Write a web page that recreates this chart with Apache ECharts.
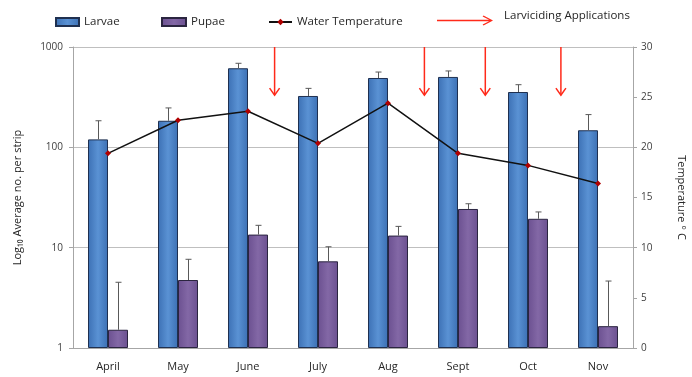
<!DOCTYPE html>
<html>
<head>
<meta charset="utf-8">
<script src="https://cdn.jsdelivr.net/npm/echarts@6/dist/echarts.min.js"></script>
<style>
  html, body { margin: 0; padding: 0; background: #ffffff; }
  #chart { width: 692px; height: 377px; }
</style>
</head>
<body>
<div id="chart"></div>
<script>
// Monthly survey: mosquito larvae / pupae per strip (log scale) and water temperature
const months = ['April', 'May', 'June', 'July', 'Aug', 'Sept', 'Oct', 'Nov'];
const larvae = [120, 184, 614, 325, 491, 503, 356, 148];
const larvaeErr = [64, 63, 74, 62, 72, 74, 65, 64];
const pupae = [1.52, 4.76, 13.5, 7.31, 13.2, 24.3, 19.4, 1.65];
const pupaeErr = [3.0, 2.9, 3.2, 2.9, 3.1, 3.1, 3.3, 3.0];
const waterTemp = [19.4, 22.7, 23.6, 20.4, 24.4, 19.4, 18.2, 16.4];
// Larviciding applications, positioned in month units (0 = April)
const applications = [2.38, 4.52, 5.39, 6.47];
const arrowFrom = 30;
const arrowTo = 25.2;
const countTicks = [1, 10, 100, 1000];

const FONT = 'Open Sans';
const BAR_W = 20;

const chart = echarts.init(document.getElementById('chart'), null, { renderer: 'canvas' });

function errorSeries(name, means, errs, offset) {
  return {
    name: name,
    type: 'custom',
    xAxisIndex: 0,
    yAxisIndex: 0,
    z: 3,
    silent: true,
    data: means.map((m, i) => [i, m, m + errs[i]]),
    renderItem: function (params, api) {
      const base = api.coord([api.value(0), api.value(1)]);
      const top = api.coord([api.value(0), api.value(2)]);
      const x = Math.round(base[0] + offset) + 0.5;
      const st = { stroke: '#595959', lineWidth: 1 };
      return {
        type: 'group',
        children: [
          { type: 'line', shape: { x1: x, y1: base[1], x2: x, y2: top[1] }, style: st },
          { type: 'line', shape: { x1: x - 3, y1: top[1], x2: x + 3, y2: top[1] }, style: st }
        ]
      };
    }
  };
}

const arrowIcon = 'path://M0,4.3 L54,4.3 L54,5.7 L0,5.7 Z M46.5,0 L56,5 L46.5,10 L45.6,8.9 L53.6,5 L45.6,1.1 Z';

function legendText(pad) {
  return {
    fontFamily: FONT, fontSize: 11.5, color: '#262626',
    rich: { t: { fontFamily: FONT, fontSize: 11.5, color: '#262626', padding: pad } }
  };
}

const option = {
  backgroundColor: '#ffffff',
  animation: false,
  textStyle: { fontFamily: FONT },
  grid: { left: 73, right: 59, top: 47, bottom: 29, containLabel: false, outerBoundsMode: 'none' },
  legend: [
    { left: 55, top: 16, padding: 0, itemWidth: 23, itemHeight: 8, selectedMode: false,
      textStyle: legendText([0, 0, 0, 0]), formatter: '{t|{name}}',
      data: [{ name: 'Larvae', icon: 'rect' }] },
    { left: 161, top: 16, padding: 0, itemWidth: 24, itemHeight: 8, selectedMode: false,
      textStyle: legendText([0, 0, 0, 0]), formatter: '{t|{name}}',
      data: [{ name: 'Pupae', icon: 'rect' }] },
    { left: 268, top: 16, padding: 0, itemWidth: 23, itemHeight: 8, selectedMode: false,
      textStyle: legendText([0, 0, 0, 0]), formatter: '{t|{name}}',
      data: [{ name: 'Water Temperature' }] },
    { left: 437, top: 10, padding: 0, itemWidth: 56, itemHeight: 10, selectedMode: false,
      textStyle: legendText([0, 0, 9, 6]), formatter: '{t|{name}}',
      data: [{ name: 'Larviciding Applications', icon: arrowIcon }] }
  ],
  xAxis: [
    {
      type: 'category',
      data: months,
      boundaryGap: true,
      axisLine: { show: true, onZero: false, lineStyle: { color: '#a6a6a6', width: 1 } },
      axisTick: { show: false },
      axisLabel: { fontFamily: FONT, fontSize: 11, color: '#262626', margin: 13 },
      splitLine: { show: false }
    },
    { type: 'value', show: false, min: -0.5, max: 7.5, axisLine: { onZero: false } }
  ],
  yAxis: [
    {
      type: 'log',
      logBase: 10,
      min: 1,
      max: 1000,
      position: 'left',
      name: 'Log\u2081\u2080 Average no. per strip',
      nameLocation: 'middle',
      nameGap: 50,
      nameTextStyle: { fontFamily: FONT, fontSize: 11, color: '#262626' },
      axisLine: { show: true, onZero: false, lineStyle: { color: '#a6a6a6' } },
      axisTick: { show: true, length: 4, lineStyle: { color: '#a6a6a6' } },
      axisLabel: {
        fontFamily: FONT, fontSize: 10, color: '#404040', margin: 10,
        formatter: v => String(countTicks.find(t => Math.abs(t - v) < 1e-6 * t) || Math.round(v))
      },
      splitLine: { show: true, lineStyle: { color: '#bfbfbf', width: 1 } }
    },
    {
      type: 'value',
      min: 0,
      max: 30,
      interval: 5,
      position: 'right',
      name: 'Temperature \u00b0 C',
      nameLocation: 'middle',
      nameRotate: -90,
      nameGap: 43,
      nameTextStyle: { fontFamily: FONT, fontSize: 11, color: '#262626' },
      axisLine: { show: true, onZero: false, lineStyle: { color: '#a6a6a6' } },
      axisTick: { show: true, length: 4, lineStyle: { color: '#a6a6a6' } },
      axisLabel: { fontFamily: FONT, fontSize: 10, color: '#404040', margin: 8 },
      splitLine: { show: false }
    }
  ],
  series: [
    {
      name: 'Larvae',
      type: 'bar',
      xAxisIndex: 0,
      yAxisIndex: 0,
      barWidth: BAR_W,
      barGap: '0%',
      z: 2,
      data: larvae,
      itemStyle: {
        color: new echarts.graphic.LinearGradient(0, 0, 1, 0, [
          { offset: 0, color: '#3c70b4' },
          { offset: 0.5, color: '#5a92d4' },
          { offset: 1, color: '#3c70b4' }
        ]),
        borderColor: '#1f3050',
        borderWidth: 1
      }
    },
    {
      name: 'Pupae',
      type: 'bar',
      xAxisIndex: 0,
      yAxisIndex: 0,
      barWidth: BAR_W,
      barGap: '0%',
      z: 2,
      data: pupae,
      itemStyle: {
        color: new echarts.graphic.LinearGradient(0, 0, 1, 0, [
          { offset: 0, color: '#6b5090' },
          { offset: 0.5, color: '#8368a6' },
          { offset: 1, color: '#6b5090' }
        ]),
        borderColor: '#2b2540',
        borderWidth: 1
      }
    },
    errorSeries('Larvae SE', larvae, larvaeErr, -BAR_W / 2),
    errorSeries('Pupae SE', pupae, pupaeErr, BAR_W / 2),
    {
      name: 'Water Temperature',
      type: 'line',
      xAxisIndex: 0,
      yAxisIndex: 1,
      z: 4,
      data: waterTemp,
      symbol: 'diamond',
      symbolSize: 6,
      showSymbol: true,
      lineStyle: { color: '#111111', width: 1.5 },
      itemStyle: { color: '#b00000', borderWidth: 0 }
    },
    {
      name: 'Larviciding Applications',
      type: 'custom',
      xAxisIndex: 1,
      yAxisIndex: 1,
      z: 5,
      silent: true,
      itemStyle: { color: '#ff2a1a' },
      data: applications.map(a => [a, arrowFrom, arrowTo]),
      renderItem: function (params, api) {
        const p0 = api.coord([api.value(0), api.value(1)]);
        const p1 = api.coord([api.value(0), api.value(2)]);
        const st = { stroke: '#ff2a1a', lineWidth: 1.5, fill: null };
        return {
          type: 'group',
          children: [
            { type: 'line', shape: { x1: p0[0], y1: p0[1], x2: p1[0], y2: p1[1] }, style: st },
            { type: 'polyline', shape: { points: [[p1[0] - 5, p1[1] - 7], [p1[0], p1[1]], [p1[0] + 5, p1[1] - 7]] }, style: st }
          ]
        };
      }
    }
  ]
};

chart.setOption(option);
</script>
</body>
</html>
